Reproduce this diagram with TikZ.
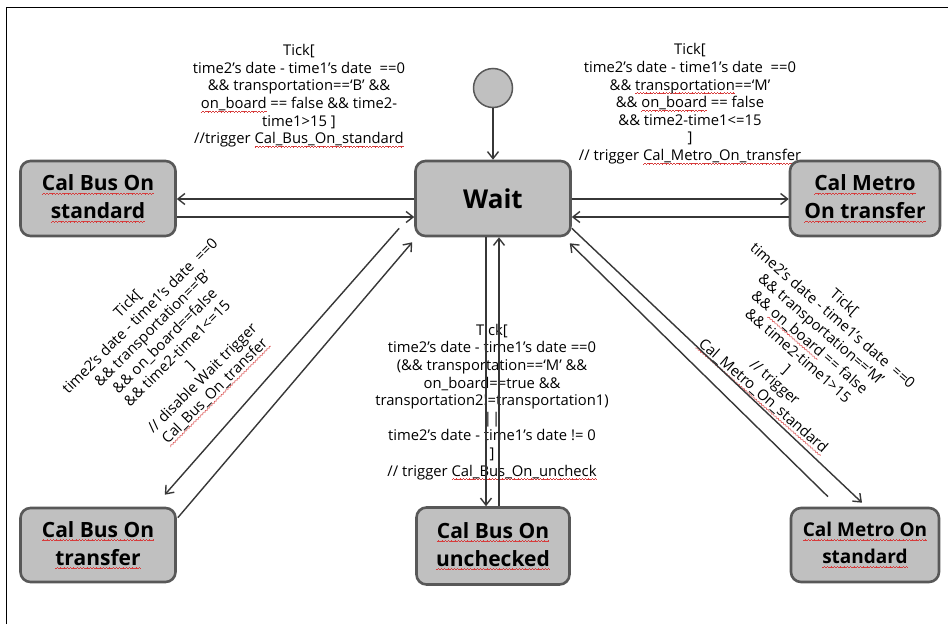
\documentclass[tikz,border=0pt]{standalone}
\usepackage{fontspec}
\setmainfont{Open Sans}
\usetikzlibrary{arrows.meta,calc}
\definecolor{wavec}{RGB}{215,60,60}
\newcommand\wavebit{\hbox{\rule[-3.9pt]{0.8pt}{0.55pt}\rule[-3.3pt]{0.8pt}{0.55pt}\rule[-2.8pt]{0.8pt}{0.55pt}\rule[-3.3pt]{0.8pt}{0.55pt}}}
\newcommand\rw[1]{\setbox0\hbox{#1}\rlap{\hbox to\wd0{\color{wavec}\xleaders\wavebit\hfill}}\box0\relax}
\definecolor{boxfill}{RGB}{192,192,192}
\definecolor{boxborder}{RGB}{88,88,88}
\definecolor{linec}{RGB}{55,55,55}
\begin{document}
\begin{tikzpicture}[x=1pt,y=-1pt,
  state/.style={draw=boxborder, line width=2.6pt, fill=boxfill, rounded corners=10pt,
    font=\bfseries\fontsize{21}{28}\selectfont, align=center, inner sep=0pt},
  lbl/.style={font=\fontsize{14.8}{17.6}\selectfont, align=center, inner sep=0pt, text=black},
  tr/.style={line width=1.4pt, draw=linec, -{Straight Barb[length=7pt,width=11pt]}}
]
\useasboundingbox (0,0) rectangle (948,624);
\fill[white] (0,0) rectangle (948,624);
\draw[line width=1pt] (6,624) -- (6,7) -- (948,7);

% labels
\node[lbl] (l1) at (299,96) {Tick[\\time2’s date - time1’s date \ ==0\\\&\& transportation==‘B’ \&\&\\\rw{on\_board} == false \&\& time2-\\time1>15 ]\\//trigger \rw{Cal\_Bus\_On\_standard}};
\node[lbl] (l2) at (690,104) {Tick[\\time2’s date - time1’s date \ ==0\\\&\& \rw{transportation}==‘M’\\\&\& \rw{on\_board} == false\\\&\& time2-time1<=15\\]\\// trigger \rw{Cal\_Metro\_On\_transfer}};
\node[lbl] (l3) at (492,402) {Tick[\\time2’s date - time1’s date ==0\\(\&\& transportation==‘M’ \&\&\\on\_board==true \&\&\\transportation2!=transportation1)\\||\\time2’s date - time1’s date != 0\\]\\// trigger \rw{Cal\_Bus\_On\_uncheck}};
\node[lbl, rotate=45] (l4) at (172,348) {Tick[\\time2’s date - time1’s date \ ==0\\\&\& transportation==‘B’\\\&\& on\_board==false\\\&\& time2-time1<=15\\]\\// disable Wait trigger\\\rw{Cal\_Bus\_On\_transfer}};
\node[lbl, rotate=-41] (l5) at (803,350) {Tick[\\time2’s date - time1’s date \ ==0\\\&\& transportation==‘M’\\\&\& \rw{on\_board} == false\\\&\& time2-time1>15\\]\\// trigger\\\rw{Cal\_Metro\_On\_standard}};

% states
\node[draw=boxborder, fill=boxfill, circle, line width=1.5pt, minimum size=39pt, inner sep=0pt] (init) at (493,88) {};
\node[state, minimum width=155pt, minimum height=75pt, font=\bfseries\fontsize{26}{30}\selectfont] (wait) at (493,198.5) {Wait};
\node[state, minimum width=155pt, minimum height=75pt] (bstd) at (98,198.5) {\rw{Cal Bus On}\\\rw{standard}};
\node[state, minimum width=150pt, minimum height=75pt] (mtr) at (865,198.5) {\rw{Cal Metro}\\\rw{On transfer}};
\node[state, minimum width=155pt, minimum height=74pt] (btr) at (98,545) {\rw{Cal Bus On}\\\rw{transfer}};
\node[state, minimum width=153pt, minimum height=77pt] (unc) at (493,546) {\rw{Cal Bus On}\\\rw{unchecked}};
\node[state, minimum width=148pt, minimum height=74pt, font=\bfseries\fontsize{19}{27}\selectfont] (mstd) at (865,545) {\rw{Cal Metro On}\\\rw{standard}};

% transitions
\draw[tr] (init) -- (wait);
\draw[tr] ($(wait.west)+(0,0.5)$) -- ($(bstd.east)+(0,0.5)$);
\draw[tr] ($(bstd.east)+(0,18.5)$) -- ($(wait.west)+(0,18.5)$);
\draw[tr] ($(wait.east)+(0,0.5)$) -- ($(mtr.west)+(0,0.5)$);
\draw[tr] ($(mtr.west)+(0,18.5)$) -- ($(wait.east)+(0,18.5)$);
\draw[tr] ($(wait.south)+(-7,0)$) -- ($(unc.north)+(-7,0)$);
\draw[tr] ($(unc.north)+(6,0)$) -- ($(wait.south)+(6,0)$);
\draw[tr] ($(wait.south west)+(-15,-9)$) -- ($(btr.north east)+(-12,-12)$);
\draw[tr] ($(btr.north east)+(1,11)$) -- ($(wait.south west)+(-2,5)$);
\draw[tr] ($(wait.south east)+(0,-9)$) -- ($(mstd.north)+(-3,-4)$);
\draw[tr] ($(mstd.north)+(-37,-10)$) -- ($(wait.south east)+(-2,6)$);
\end{tikzpicture}
\end{document}
